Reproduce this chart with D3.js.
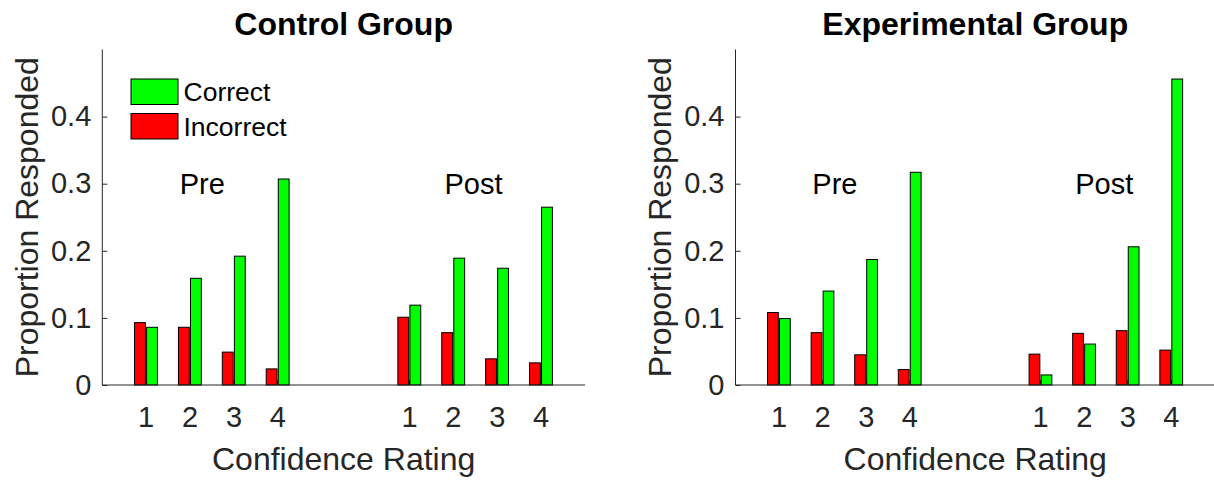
<!DOCTYPE html>
<html>
<head>
<meta charset="utf-8">
<script src="https://cdn.jsdelivr.net/npm/d3@7"></script>
<style>
  body { margin: 0; background: #fff; overflow: hidden; }
  svg { display: block; font-family: "Liberation Sans", Arial, Helvetica, sans-serif; }
</style>
</head>
<body>
<svg id="chart" width="1214" height="481"></svg>
<script>
// ratings shown on each half of the x axis
const ratings = [1, 2, 3, 4];
const prePositions = [1, 2, 3, 4];
const postPositions = [7, 8, 9, 10];
const phaseLabels = ["Pre", "Post"];
const phaseLabelX = [2.28, 8.46];
const phaseLabelY = 0.3;
const yTicks = [0, 0.1, 0.2, 0.3, 0.4];
const seriesNames = ["Correct", "Incorrect"];

// Control group
const controlCorrectPre = [0.086, 0.159, 0.192, 0.307];
const controlCorrectPost = [0.119, 0.189, 0.174, 0.265];
const controlIncorrectPre = [0.093, 0.086, 0.049, 0.024];
const controlIncorrectPost = [0.101, 0.078, 0.039, 0.033];

// Experimental group
const expCorrectPre = [0.099, 0.140, 0.187, 0.317];
const expCorrectPost = [0.015, 0.061, 0.206, 0.456];
const expIncorrectPre = [0.108, 0.078, 0.045, 0.023];
const expIncorrectPost = [0.046, 0.077, 0.081, 0.052];

const green = "#00ff00";
const red = "#ff0000";
const axisColor = "#262626";

const svg = d3.select("#chart");

function drawPanel(opts) {
  let left = opts.left, right = opts.right;
  let top = 49.5, bottom = 385;

  let x = d3.scaleLinear().domain([0, 11]).range([left, right]);
  let y = d3.scaleLinear().domain([0, 0.5]).range([bottom, top]);

  let g = svg.append("g");

  let positions = prePositions.concat(postPositions);
  let correct = opts.correctPre.concat(opts.correctPost);
  let incorrect = opts.incorrectPre.concat(opts.incorrectPost);

  // x tick marks (inward, mostly hidden behind the bars)
  g.selectAll(".xtick")
    .data(positions)
    .enter().append("line")
    .attr("x1", d => x(d)).attr("x2", d => x(d))
    .attr("y1", bottom).attr("y2", bottom - 5)
    .attr("stroke", axisColor).attr("stroke-width", 1);

  // bars
  let bars = positions.map((p, i) => ({ p: p, c: correct[i], w: incorrect[i] }));
  g.selectAll(".bar-inc")
    .data(bars)
    .enter().append("rect")
    .attr("x", d => x(d.p - 0.265))
    .attr("width", d => x(d.p - 0.018) - x(d.p - 0.265))
    .attr("y", d => y(d.w))
    .attr("height", d => y(0) - y(d.w))
    .attr("fill", red).attr("stroke", "#000").attr("stroke-width", 1);

  g.selectAll(".bar-cor")
    .data(bars)
    .enter().append("rect")
    .attr("x", d => x(d.p + 0.01))
    .attr("width", d => x(d.p + 0.257) - x(d.p + 0.01))
    .attr("y", d => y(d.c))
    .attr("height", d => y(0) - y(d.c))
    .attr("fill", green).attr("stroke", "#000").attr("stroke-width", 1);

  // y axis
  let yAxis = d3.axisLeft(y).tickValues(yTicks)
    .tickFormat(d => d === 0 ? "0" : d3.format(".1f")(d))
    .tickSizeInner(-5).tickSizeOuter(0).tickPadding(11);
  let yg = g.append("g").attr("transform", "translate(" + left + ",0)").call(yAxis);
  yg.select(".domain").attr("stroke", axisColor).attr("d", "M0," + top + "V" + bottom);
  yg.selectAll(".tick line").attr("stroke", axisColor);
  yg.selectAll(".tick text").attr("fill", axisColor).attr("font-size", "29px")
    .attr("font-family", "Liberation Sans, Arial, sans-serif");

  // x axis line + labels
  g.append("line")
    .attr("x1", left).attr("x2", right)
    .attr("y1", bottom).attr("y2", bottom)
    .attr("stroke", axisColor).attr("stroke-width", 1);

  g.selectAll(".xlab")
    .data(positions)
    .enter().append("text")
    .attr("x", d => x(d))
    .attr("y", 427)
    .attr("text-anchor", "middle")
    .attr("font-size", "29px")
    .attr("fill", axisColor)
    .text((d, i) => ratings[i % 4]);

  // phase labels
  g.selectAll(".phase")
    .data(phaseLabels)
    .enter().append("text")
    .attr("x", (d, i) => x(phaseLabelX[i]))
    .attr("y", y(phaseLabelY))
    .attr("dy", "0.35em")
    .attr("text-anchor", "middle")
    .attr("font-size", "29px")
    .attr("fill", "#000")
    .text(d => d);

  // axis titles
  g.append("text")
    .attr("x", (left + right) / 2)
    .attr("y", 470)
    .attr("text-anchor", "middle")
    .attr("font-size", "32px")
    .attr("fill", axisColor)
    .text("Confidence Rating");

  g.append("text")
    .attr("transform", "translate(" + (left - 76) + "," + ((top + bottom) / 2) + ") rotate(-90)")
    .attr("dy", "0.35em")
    .attr("text-anchor", "middle")
    .attr("font-size", "32px")
    .attr("fill", axisColor)
    .text("Proportion Responded");

  g.append("text")
    .attr("x", (left + right) / 2)
    .attr("y", 35)
    .attr("text-anchor", "middle")
    .attr("font-size", "32px")
    .attr("font-weight", "bold")
    .attr("fill", "#000")
    .text(opts.title);

  return g;
}

let leftPanel = drawPanel({
  left: 102.3, right: 585, title: "Control Group",
  correctPre: controlCorrectPre, correctPost: controlCorrectPost,
  incorrectPre: controlIncorrectPre, incorrectPost: controlIncorrectPost
});

drawPanel({
  left: 735.5, right: 1215, title: "Experimental Group",
  correctPre: expCorrectPre, correctPost: expCorrectPost,
  incorrectPre: expIncorrectPre, incorrectPost: expIncorrectPost
});

// Legend (control panel only)
let legend = leftPanel.append("g").attr("transform", "translate(131,79)");
let legendColors = [green, red];
legend.selectAll("rect")
  .data(seriesNames)
  .enter().append("rect")
  .attr("x", 0)
  .attr("y", (d, i) => i * 34.5)
  .attr("width", 47).attr("height", 25.5)
  .attr("fill", (d, i) => legendColors[i])
  .attr("stroke", "#000").attr("stroke-width", 1);
legend.selectAll("text")
  .data(seriesNames)
  .enter().append("text")
  .attr("x", 52.5)
  .attr("y", (d, i) => i * 34.5 + 12.75)
  .attr("dy", "0.35em")
  .attr("font-size", "26.5px")
  .attr("fill", "#000")
  .text(d => d);
</script>
</body>
</html>
